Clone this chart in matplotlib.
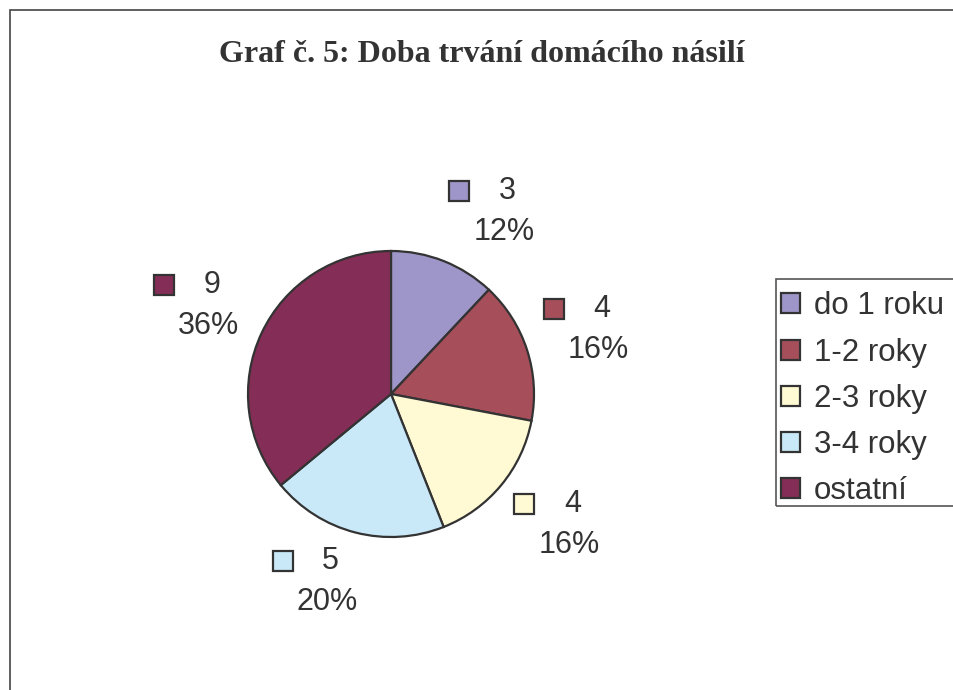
import numpy as np
import matplotlib.pyplot as plt
from matplotlib.patches import Rectangle

categories = ["do 1 roku", "1-2 roky", "2-3 roky", "3-4 roky", "ostatní"]
counts = [3, 4, 4, 5, 9]
colors = ["#9E96C8", "#A64F5B", "#FFFAD4", "#C9E9F8", "#842D56"]
title = "Graf č. 5: Doba trvání domácího násilí"

W, H = 954, 690
R = 143.0                  # pie radius in px
CX, CY = 391.0, 394.0      # pie centre in px (from top-left)
TXT = "#333333"
EDGE = "#333333"

fig = plt.figure(figsize=(W / 100, H / 100), dpi=100)
ax = fig.add_axes([0, 0, 1, 1])

# outer chart frame (cut off on right and bottom)
fig.patches.append(Rectangle((10 / W, -0.1), 1.2, 1 - 10 / H + 0.1,
                             transform=fig.transFigure, fill=False,
                             edgecolor="#444444", linewidth=1.2))

wedges, _ = ax.pie(counts, colors=colors, startangle=90, counterclock=False,
                   radius=1.0, wedgeprops=dict(edgecolor=EDGE, linewidth=1.6))
# pie resets the limits, so set them afterwards: 1 data unit = R px
ax.set_aspect("auto")
ax.set_xlim(-CX / R, (W - CX) / R)
ax.set_ylim(-(H - CY) / R, CY / R)
ax.axis("off")

# data labels placed outside the pie, excel style
box_w, box_h = 89 / R, 63 / R
r_lab = 162 / R
total = sum(counts)
for w, n, col in zip(wedges, counts, colors):
    ang = np.deg2rad((w.theta1 + w.theta2) / 2)
    c, s = np.cos(ang), np.sin(ang)
    bx = r_lab * c + box_w / 2 * np.clip(2.9 * c, -1, 1)
    by = r_lab * s + box_h / 2 * np.clip(1.4 * s, -1, 1)
    tx = bx + 12 / R
    ax.text(tx, by + 21 / R, str(n), ha="center", va="center",
            fontsize=22, color=TXT, family="Liberation Sans")
    ax.text(tx - 3 / R, by - 20 / R, f"{n / total:.0%}", ha="center", va="center",
            fontsize=22, color=TXT, family="Liberation Sans")
    ax.plot(bx - 36 / R, by + 21 / R, marker="s", markersize=14,
            markerfacecolor=col, markeredgecolor=EDGE, markeredgewidth=1.6)

fig.text(482 / W, 1 - 55 / H, title, ha="center", va="center",
         fontsize=23, fontweight="bold", family="Liberation Serif", color=TXT)

# legend box runs off the right edge of the picture
fig.patches.append(Rectangle((776 / W, 1 - 506 / H), 0.5, 227 / H,
                             transform=fig.transFigure, fill=False,
                             edgecolor="#555555", linewidth=1.2))
leg = fig.legend(wedges, categories, loc="upper left",
                 bbox_to_anchor=(772 / W, 1 - 282 / H), borderaxespad=0,
                 frameon=False, prop=dict(family="Liberation Sans", size=22.5),
                 handlelength=0.6, handleheight=0.6, handletextpad=0.45,
                 labelspacing=0.52, borderpad=0.3, labelcolor=TXT)

fig.savefig("out.png", dpi=100)
